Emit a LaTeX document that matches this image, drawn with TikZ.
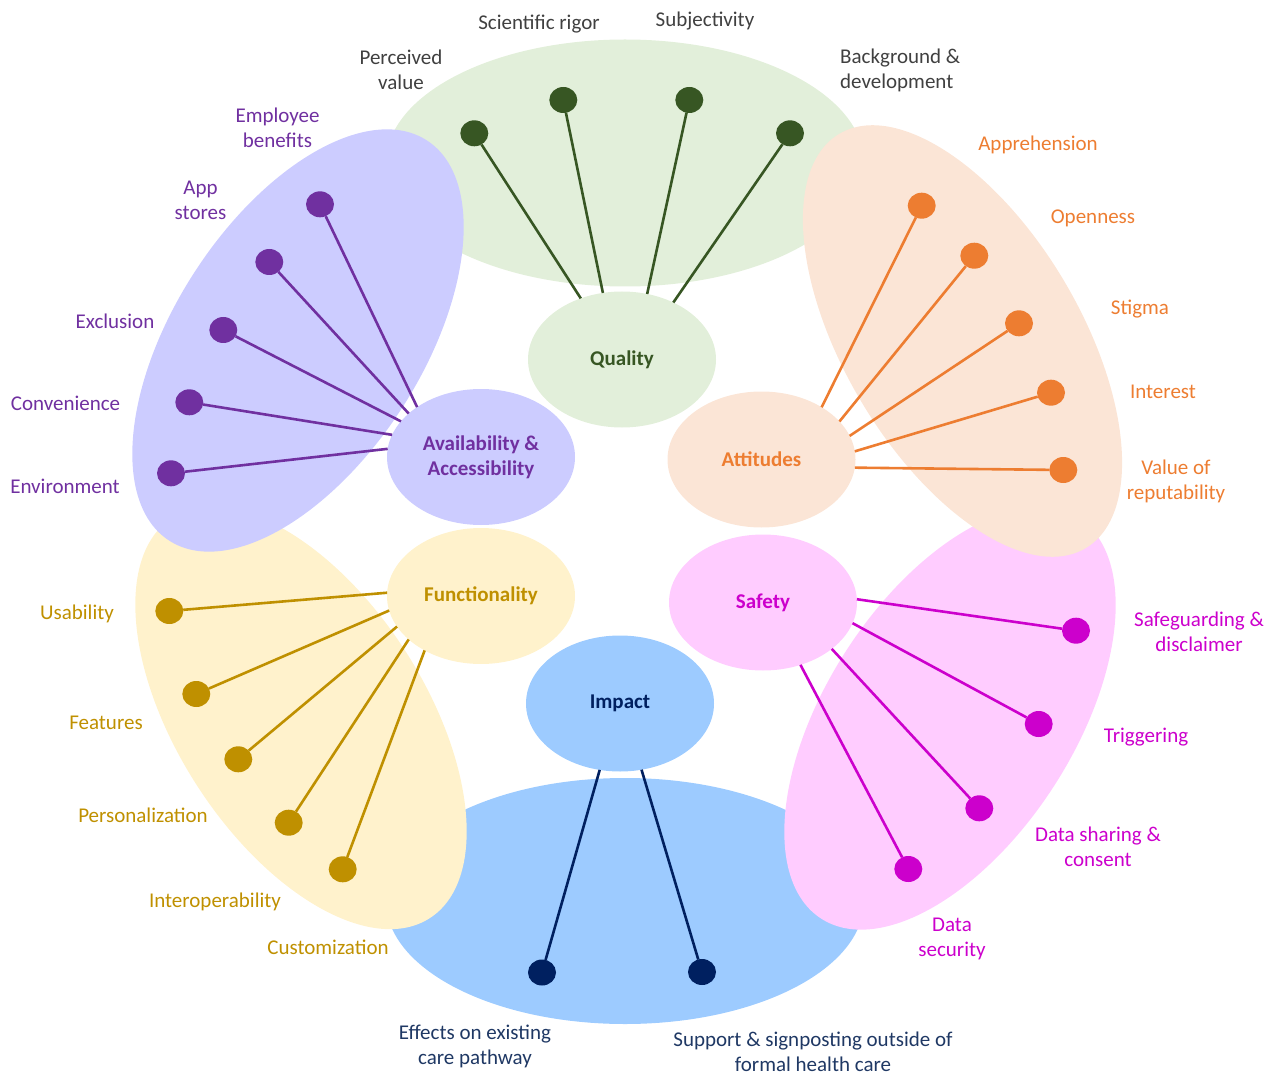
\documentclass[tikz,border=0pt]{standalone}
\usepackage{fontspec}
\setmainfont{Carlito}
\usetikzlibrary{shapes.geometric}
\definecolor{qfill}{HTML}{E2EFDA}
\definecolor{qdark}{HTML}{375623}
\definecolor{afill}{HTML}{CCCCFF}
\definecolor{adark}{HTML}{7030A0}
\definecolor{tfill}{HTML}{FBE5D6}
\definecolor{tdark}{HTML}{ED7D31}
\definecolor{ffill}{HTML}{FFF2CC}
\definecolor{fdark}{HTML}{BF9000}
\definecolor{sfill}{HTML}{FFCCFF}
\definecolor{sdark}{HTML}{CC00CC}
\definecolor{ifill}{HTML}{9DCBFF}
\definecolor{idark}{HTML}{002060}
\definecolor{itext}{HTML}{1F3864}
\definecolor{gtext}{HTML}{404040}
\begin{document}
\begin{tikzpicture}[x=1pt,y=-1pt,
  hub/.style={ellipse, minimum width=188pt, minimum height=136pt, inner sep=0pt, outer sep=0pt,
    font=\fontsize{21}{25}\selectfont\bfseries, align=center},
  dot/.style={ellipse, minimum width=28pt, minimum height=26pt, inner sep=0pt, outer sep=0pt},
  lbl/.style={font=\fontsize{21}{25}\selectfont, align=center, inner sep=0pt},
  conn/.style={line width=2.6pt}]
\useasboundingbox (0,0) rectangle (1264,1075);

% petals
\fill[qfill] (625,163) ellipse [x radius=239, y radius=123.5];
\fill[ifill] (625,901) ellipse [x radius=239, y radius=123];
\fill[ffill, rotate around={-57.25:(301,718)}] (301,718) ellipse [x radius=238, y radius=124];
\fill[sfill, rotate around={57.25:(950,718.5)}] (950,718.5) ellipse [x radius=238, y radius=124];
\fill[afill, rotate around={57.25:(298,340.5)}] (298,340.5) ellipse [x radius=238, y radius=124];
\fill[tfill, rotate around={-59.25:(962.5,341)}] (962.5,341) ellipse [x radius=241, y radius=118];

% hubs
\node[hub, fill=qfill, text=qdark] (quality) at (622,359.5) {Quality};
\node[hub, fill=afill, text=adark] (avail) at (481,457) {Availability \&\\Accessibility};
\node[hub, fill=tfill, text=tdark] (att) at (761.5,459.5) {Attitudes};
\node[hub, fill=ffill, text=fdark] (func) at (481,596) {Functionality};
\node[hub, fill=sfill, text=sdark] (safety) at (763,602.5) {Safety};
\node[hub, fill=ifill, text=idark] (impact) at (620,703.5) {Impact};

% Quality
\node[dot, fill=qdark] (q1) at (474.3,133.3) {};
\node[dot, fill=qdark] (q2) at (563.3,100) {};
\node[dot, fill=qdark] (q3) at (689.3,100) {};
\node[dot, fill=qdark] (q4) at (790,133.3) {};
\draw[conn, qdark] (quality.124) -- (q1);
\draw[conn, qdark] (quality.106) -- (q2);
\draw[conn, qdark] (quality.69) -- (q3);
\draw[conn, qdark] (quality.48) -- (q4);
\node[lbl, text=gtext] (lq1) at (401,70) {Perceived\\value};
\node[lbl, text=gtext] (lq2) at (539,24) {Scientific rigor};
\node[lbl, text=gtext] (lq3) at (705,21) {Subjectivity};
\node[lbl, text=gtext, align=left, anchor=west] (lq4) at (840,70) {Background \&\\development};

% Availability
\node[dot, fill=adark] (a1) at (320,204.3) {};
\node[dot, fill=adark] (a2) at (269.3,262) {};
\node[dot, fill=adark] (a3) at (223.3,330) {};
\node[dot, fill=adark] (a4) at (189.3,402.3) {};
\node[dot, fill=adark] (a5) at (171,473.3) {};
\draw[conn, adark] (avail.142) -- (a1);
\draw[conn, adark] (avail.149) -- (a2);
\draw[conn, adark] (avail.156) -- (a3);
\draw[conn, adark] (avail.166) -- (a4);
\draw[conn, adark] (avail.175) -- (a5);
\node[lbl, text=adark] (la1) at (277.5,128) {Employee\\benefits};
\node[lbl, text=adark] (la2) at (200.5,200) {App\\stores};
\node[lbl, text=adark] (la3) at (115,321) {Exclusion};
\node[lbl, text=adark] (la4) at (65.5,403) {Convenience};
\node[lbl, text=adark] (la5) at (65,486) {Environment};

% Attitudes
\node[dot, fill=tdark] (t1) at (921.7,205.7) {};
\node[dot, fill=tdark] (t2) at (974.3,255.7) {};
\node[dot, fill=tdark] (t3) at (1019,323.3) {};
\node[dot, fill=tdark] (t4) at (1051,392.7) {};
\node[dot, fill=tdark] (t5) at (1063.3,470) {};
\draw[conn, tdark] (att.41) -- (t1);
\draw[conn, tdark] (att.26) -- (t2);
\draw[conn, tdark] (att.15) -- (t3);
\draw[conn, tdark] (att.5) -- (t4);
\draw[conn, tdark] (att.-5) -- (t5);
\node[lbl, text=tdark] (lt1) at (1038,145) {Apprehension};
\node[lbl, text=tdark] (lt2) at (1093,218) {Openness};
\node[lbl, text=tdark] (lt3) at (1140,309) {Stigma};
\node[lbl, text=tdark] (lt4) at (1163,392) {Interest};
\node[lbl, text=tdark] (lt5) at (1176,481) {Value of\\reputability};

% Functionality
\node[dot, fill=fdark] (f1) at (169.3,611) {};
\node[dot, fill=fdark] (f2) at (196.3,694) {};
\node[dot, fill=fdark] (f3) at (238.3,759.3) {};
\node[dot, fill=fdark] (f4) at (288.7,822.7) {};
\node[dot, fill=fdark] (f5) at (342.7,869.3) {};
\draw[conn, fdark] (func.178) -- (f1);
\draw[conn, fdark] (func.189) -- (f2);
\draw[conn, fdark] (func.200) -- (f3);
\draw[conn, fdark] (func.211) -- (f4);
\draw[conn, fdark] (func.224) -- (f5);
\node[lbl, text=fdark] (lf1) at (77,614) {Usability};
\node[lbl, text=fdark] (lf2) at (106,723) {Features};
\node[lbl, text=fdark] (lf3) at (143,815) {Personalization};
\node[lbl, text=fdark] (lf4) at (215,902) {Interoperability};
\node[lbl, text=fdark] (lf5) at (328,947) {Customization};

% Safety
\node[dot, fill=sdark] (s1) at (1076,630.7) {};
\node[dot, fill=sdark] (s2) at (1038.7,724) {};
\node[dot, fill=sdark] (s3) at (979.3,808.3) {};
\node[dot, fill=sdark] (s4) at (908.3,869) {};
\draw[conn, sdark] (safety.2) -- (s1);
\draw[conn, sdark] (safety.-13) -- (s2);
\draw[conn, sdark] (safety.-34) -- (s3);
\draw[conn, sdark] (safety.-59) -- (s4);
\node[lbl, text=sdark] (ls1) at (1199,632) {Safeguarding \&\\disclaimer};
\node[lbl, text=sdark] (ls2) at (1146,737) {Triggering};
\node[lbl, text=sdark] (ls3) at (1098,847) {Data sharing \&\\consent};
\node[lbl, text=sdark] (ls4) at (952,939) {Data\\security};

% Impact
\node[dot, fill=idark] (i1) at (542,972.5) {};
\node[dot, fill=idark] (i2) at (702,972) {};
\draw[conn, idark] (impact.-107) -- (i1);
\draw[conn, idark] (impact.-72) -- (i2);
\node[lbl, text=itext] (li1) at (475,1046) {Effects on existing\\care pathway};
\node[lbl, text=itext] (li2) at (813,1052) {Support \& signposting outside of\\formal health care};
\end{tikzpicture}
\end{document}
